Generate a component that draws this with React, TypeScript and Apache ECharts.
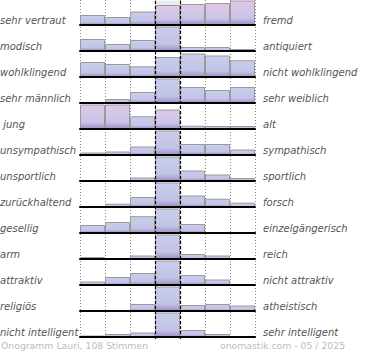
import React, { useEffect, useRef } from "react";
import * as echarts from "echarts";

const leftLabels = ["sehr vertraut", "modisch", "wohlklingend", "sehr männlich", " jung", "unsympathisch", "unsportlich", "zurückhaltend", "gesellig", "arm", "attraktiv", "religiös", "nicht intelligent"];
const rightLabels = ["fremd", "antiquiert", "nicht wohlklingend", "sehr weiblich", "alt", "sympathisch", "sportlich", "forsch", "einzelgängerisch", "reich", "nicht attraktiv", "atheistisch", "sehr intelligent"];
const scaleSteps = ["1", "2", "3", "4", "5", "6", "7"];

const row01 = [10, 8, 13.5, 20, 21, 22, 24.5];
const row02 = [12, 7, 11, 24.5, 4, 4, 2];
const row03 = [15, 13, 10.7, 20, 23.5, 21.5, 16.7];
const row04 = [0, 4, 11, 24.5, 16, 13, 16];
const row05 = [24.5, 24.5, 12.7, 19.5, 3.3, 3, 3];
const row06 = [2.5, 3.5, 8.5, 24.5, 11, 11, 5.5];
const row07 = [0, 0, 3.5, 24.5, 10.5, 6.5, 3];
const row08 = [0, 3.3, 10, 24.5, 11.5, 8.3, 4.3];
const row09 = [8, 11, 16.8, 24.5, 9, 0, 0];
const row10 = [2, 0, 3.5, 24.5, 5, 3.5, 0];
const row11 = [3.5, 8, 12, 24.5, 10, 5.5, 0];
const row12 = [0, 0, 7, 24.5, 6, 7, 5.5];
const row13 = [1.5, 3, 4.5, 24.5, 7, 3, 0];
const rows = [row01, row02, row03, row04, row05, row06, row07, row08, row09, row10, row11, row12, row13];

// grey cap above the centre bar in the first row
const row01Cap = [0, 0, 0, 4.5, 0, 0, 0];

// bars drawn with the pink tint: [row, column]
const pinkBars = [[0, 3], [0, 4], [0, 5], [0, 6], [4, 0], [4, 1], [4, 3]];

const footerLeft = "Onogramm Lauri, 108 Stimmen";
const footerRight = "onomastik.com - 05 / 2025";

const ROW_H = 26;
const MAX = 25;

const blueGrad = () =>
  new echarts.graphic.LinearGradient(0, 0, 0, 1, [
    { offset: 0, color: "#c9cdeb" },
    { offset: 0.72, color: "#c2c4e6" },
    { offset: 1, color: "#a190c9" },
  ]);
const pinkGrad = () =>
  new echarts.graphic.LinearGradient(0, 0, 0, 1, [
    { offset: 0, color: "#e0c7e7" },
    { offset: 0.72, color: "#c9c5e6" },
    { offset: 1, color: "#a190c9" },
  ]);

export default function App() {
  const ref = useRef<HTMLDivElement>(null);
  useEffect(() => {
    const chart = echarts.init(ref.current!, null, { renderer: "svg" });
    const grids: any[] = [];
    const xAxes: any[] = [];
    const yAxes: any[] = [];
    const series: any[] = [];
    const graphics: any[] = [];

    // overlay grid for vertical guide lines
    grids.push({ left: 80, width: 175, top: 0, height: 339 });
    xAxes.push({
      gridIndex: 0, type: "value", min: 0, max: 7, interval: 1,
      axisLine: { show: false }, axisTick: { show: false }, axisLabel: { show: false },
      splitLine: { show: true, lineStyle: { color: "#8a8a8a", type: [1, 2], width: 1 } },
    });
    yAxes.push({ gridIndex: 0, type: "value", min: 0, max: 1, show: false, splitLine: { show: false } });
    series.push({
      type: "scatter", xAxisIndex: 0, yAxisIndex: 0, data: [[0, 0]], symbolSize: 0, silent: true, z: 20,
      markLine: {
        silent: true, symbol: ["none", "none"], label: { show: false },
        lineStyle: { color: "#000", type: [3, 2], width: 1.2 },
        data: [{ xAxis: 3 }, { xAxis: 4 }],
      },
    });

    rows.forEach((vals, i) => {
      const g = i + 1;
      grids.push({ left: 80, width: 175, top: i * ROW_H, height: 25 });
      xAxes.push({
        gridIndex: g, type: "category", data: scaleSteps, z: 5,
        axisLine: { show: true, lineStyle: { color: "#000", width: 2 } },
        axisTick: { show: false }, axisLabel: { show: false }, splitLine: { show: false },
      });
      yAxes.push({ gridIndex: g, type: "value", min: 0, max: MAX, show: false, splitLine: { show: false } });
      series.push({
        type: "bar", xAxisIndex: g, yAxisIndex: g, barCategoryGap: "0%", stack: "r" + g,
        data: vals.map((v, c) => ({
          value: v,
          itemStyle: {
            color: pinkBars.some(([r, cc]) => r === i && cc === c) ? pinkGrad() : blueGrad(),
            borderColor: v > 0 ? "#9a9a9a" : "rgba(0,0,0,0)",
            borderWidth: 1,
          },
        })),
      });
      if (i === 0) {
        series.push({
          type: "bar", xAxisIndex: g, yAxisIndex: g, barCategoryGap: "0%", stack: "r" + g,
          data: row01Cap, itemStyle: { color: "#ececec" },
        });
      }
      const yMid = i * ROW_H + 22;
      graphics.push({
        type: "text", left: 0, top: yMid - 7,
        style: { text: leftLabels[i], fill: "#555", font: "italic 10px 'DejaVu Sans'" },
      });
      graphics.push({
        type: "text", left: 263, top: yMid - 7,
        style: { text: rightLabels[i], fill: "#555", font: "italic 10px 'DejaVu Sans'" },
      });
    });

    graphics.push({
      type: "text", left: 1, top: 340.5,
      style: { text: footerLeft, fill: "#bbb", font: "9.3px 'DejaVu Sans'" },
    });
    graphics.push({
      type: "text", left: 220, top: 340.5,
      style: { text: footerRight, fill: "#bbb", font: "9.3px 'DejaVu Sans'" },
    });

    chart.setOption({
      animation: false,
      backgroundColor: "#fff",
      grid: grids,
      xAxis: xAxes,
      yAxis: yAxes,
      series,
      graphic: graphics,
    });
    return () => chart.dispose();
  }, []);
  return <div ref={ref} style={{ position: "fixed", left: 0, top: 0, width: 370, height: 360 }} />;
}
